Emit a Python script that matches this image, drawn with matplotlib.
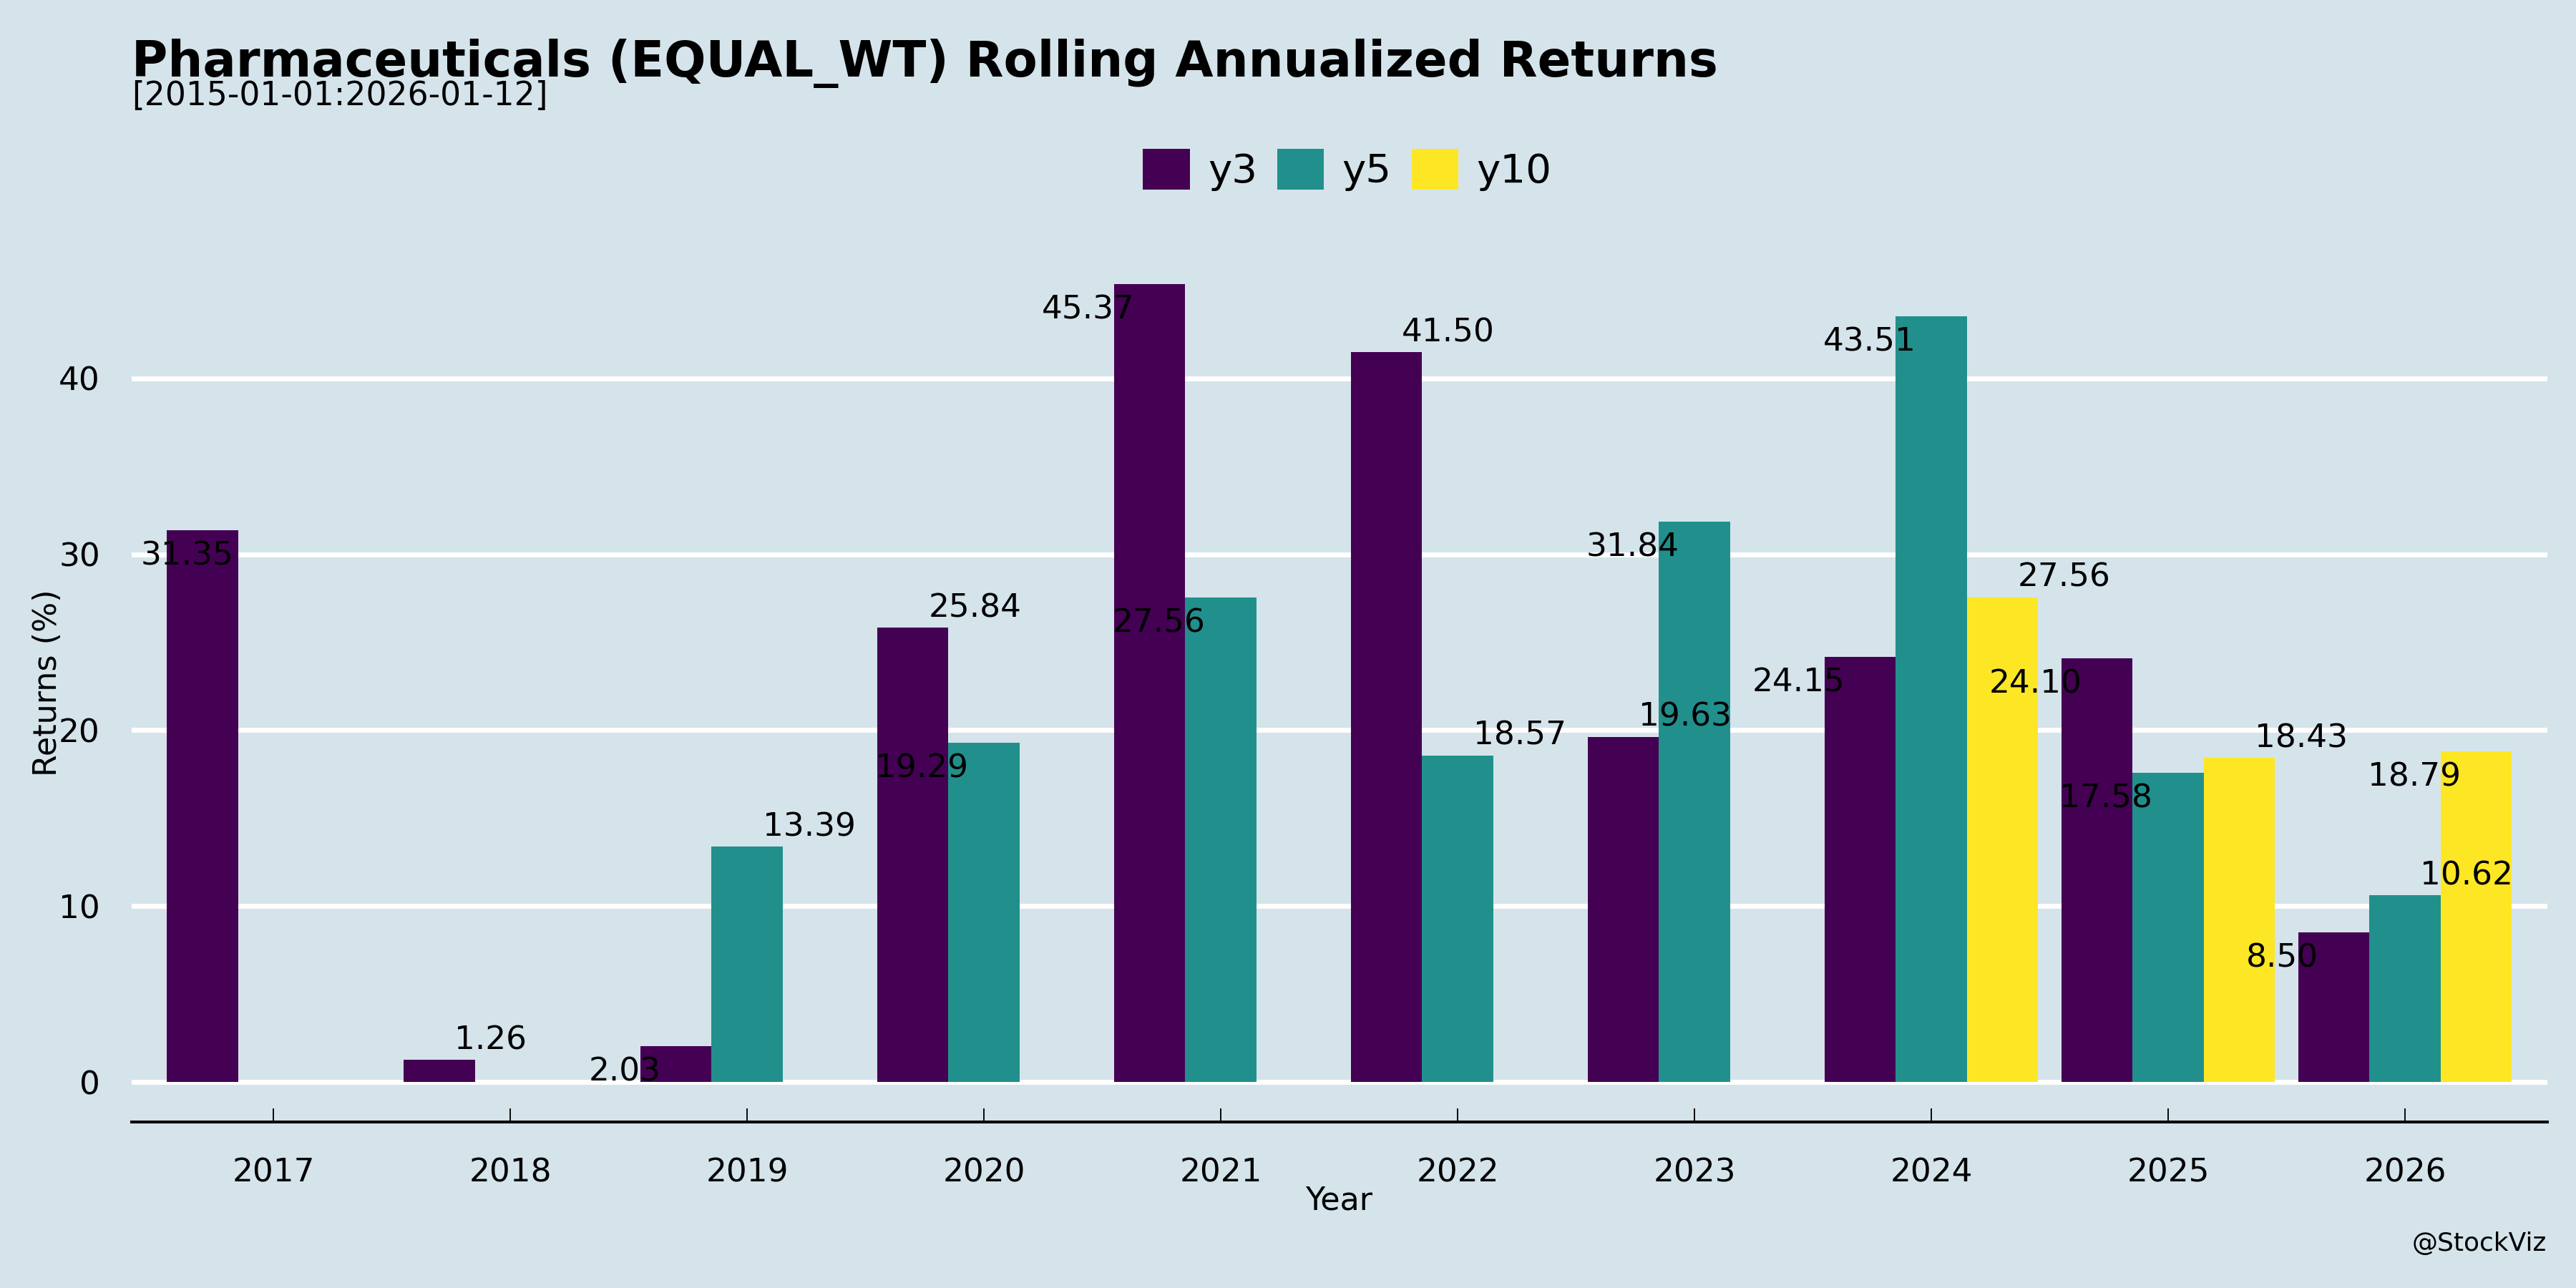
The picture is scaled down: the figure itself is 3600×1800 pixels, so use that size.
#%%############################################################################
# Rolling annualized returns bar chart (y3 / y5 / y10) for the Pharmaceuticals
# equal weight index, drawn in the ggplot "economist" look.
###############################################################################

#%%############################################################################
# Imports.
###############################################################################
import numpy as np
import matplotlib.pyplot as plt

#%%############################################################################
# Data.
###############################################################################
years = ['2017', '2018', '2019', '2020', '2021', '2022', '2023', '2024', '2025', '2026']
seriesNames = ['y3', 'y5', 'y10']

y3 = [31.35, 1.26, 2.03, 25.84, 45.37, 41.50, 19.63, 24.15, 24.10, 8.50]
y5 = [np.nan, np.nan, 13.39, 19.29, 27.56, 18.57, 31.84, 43.51, 17.58, 10.62]
y10 = [np.nan, np.nan, np.nan, np.nan, np.nan, np.nan, np.nan, 27.56, 18.43, 18.79]

# which side of the bar top each value label ended up on (text repel result)
y3LabelSide = ['below', 'above', 'below', 'above', 'below', 'above', 'above', 'below', 'below', 'below']
y5LabelSide = [None, None, 'above', 'below', 'below', 'above', 'below', 'below', 'below', 'above']
y10LabelSide = [None, None, None, None, None, None, None, 'above', 'above', 'below']

titleText = 'Pharmaceuticals (EQUAL_WT) Rolling Annualized Returns'
subtitleText = '[2015-01-01:2026-01-12]'
captionText = '@StockViz'

#%%############################################################################
# Style.
###############################################################################
bgColor = '#d5e4eb'
barColors = ['#440154', '#21908C', '#FDE725']
barWidth = 0.3
labelSize = 14.5
panelMargin_pt = 4.0    # labels are kept this far inside the panel
plt.rcParams['font.family'] = ['DejaVu Sans']

#%%############################################################################
# Plot.
###############################################################################
fig = plt.figure(figsize = (16, 8), dpi = 225, facecolor = bgColor)
ax = fig.add_axes([0.051, 0.1289, 0.93775, 0.6817])
ax.set_facecolor(bgColor)

x = np.arange(len(years))
allSeries = [y3, y5, y10]
allSides = [y3LabelSide, y5LabelSide, y10LabelSide]
handles = []
labelTexts = []
for s, values in enumerate(allSeries):
    xs = x + (s - 1) * barWidth
    h = ax.bar(xs, values, width = barWidth, color = barColors[s], label = seriesNames[s], zorder = 3)
    handles.append(h)
    for i, v in enumerate(values):
        if np.isnan(v):
            continue
        if allSides[s][i] == 'above':
            t = ax.text(xs[i] + 0.065, v + 0.6, '%.2f' % v, ha = 'left', va = 'baseline', fontsize = labelSize, zorder = 4)
        else:
            t = ax.text(xs[i] - 0.065, v - 1.97, '%.2f' % v, ha = 'right', va = 'baseline', fontsize = labelSize, zorder = 4)
        labelTexts.append(t)

# ggplot style 5% expansion of the value range
maxVal = np.nanmax(np.array(allSeries, dtype = float))
ax.set_ylim(-0.05 * maxVal, 1.05 * maxVal)
ax.set_xlim(-0.6, len(years) - 0.4)

ax.set_yticks([0, 10, 20, 30, 40])
ax.grid(axis = 'y', color = 'white', linewidth = 2.2, zorder = 1)
ax.set_axisbelow(True)
for side in ['left', 'right', 'top']:
    ax.spines[side].set_visible(False)
ax.spines['bottom'].set_linewidth(1.3)
ax.spines['bottom'].set_color('black')

ax.set_xticks(x)
ax.set_xticklabels(years)
ax.tick_params(axis = 'x', direction = 'in', length = 6, width = 0.6, pad = 16, labelsize = 14.5)
ax.tick_params(axis = 'y', length = 0, pad = 14, labelsize = 14.5)

ax.set_xlabel('Year', fontsize = 14.2)
ax.set_ylabel('Returns (%)', fontsize = 14.2)
ax.xaxis.set_label_coords(0.5, -0.072)
ax.yaxis.set_label_coords(-0.0283, 0.5)

fig.text(0.0511, 0.9406, titleText, fontsize = 22, fontweight = 'bold', ha = 'left', va = 'baseline')
fig.text(0.0511, 0.9183, subtitleText, fontsize = 14.6, ha = 'left', va = 'baseline')
fig.text(0.98861, 0.0289, captionText, fontsize = 11.5, ha = 'right', va = 'baseline')

fig.legend(handles = handles, loc = 'center', bbox_to_anchor = (0.523, 0.868), ncol = 3,
           frameon = False, fontsize = 18, handlelength = 1.16, handleheight = 1.17,
           handletextpad = 0.45, columnspacing = 0.5)

#%%############################################################################
# Keep value labels inside the panel (like the repel step does).
###############################################################################
fig.canvas.draw()
renderer = fig.canvas.get_renderer()
axBox = ax.get_window_extent(renderer)
margin_px = panelMargin_pt * fig.dpi / 72.0
for t in labelTexts:
    bb = t.get_window_extent(renderer)
    shift = 0.0
    if bb.x0 < axBox.x0 + margin_px:
        shift = axBox.x0 + margin_px - bb.x0
    elif bb.x1 > axBox.x1 - margin_px:
        shift = axBox.x1 - margin_px - bb.x1
    if shift != 0.0:
        px, py = ax.transData.transform(t.get_position())
        t.set_x(ax.transData.inverted().transform((px + shift, py))[0])

fig.savefig('out.png', facecolor = bgColor)
